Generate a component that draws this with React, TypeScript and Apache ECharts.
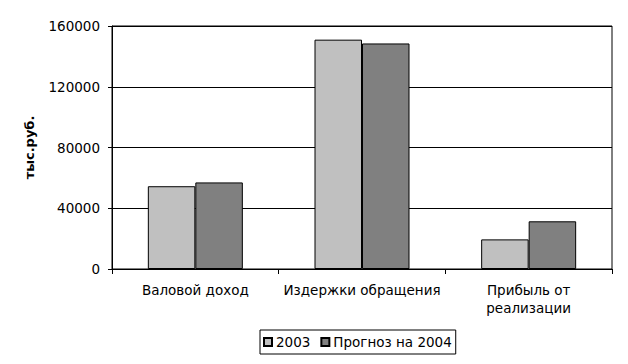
import React, { useEffect, useRef } from "react";
import * as echarts from "echarts";

const categories = ["Валовой доход", "Издержки обращения", "Прибыль от\nреализации"];
const seriesNames = ["2003", "Прогноз на 2004"];
const values2003 = [54500, 151000, 19500];
const values2004 = [57000, 148500, 31400];
const yTicks = { min: 0, max: 160000, interval: 40000 };
const yAxisTitle = "тыс.руб.";

const FONT = "DejaVu Sans";
const FS = 13.5;

export default function App() {
  const ref = useRef<HTMLDivElement>(null);
  useEffect(() => {
    if (!ref.current) return;
    const chart = echarts.init(ref.current, null, { renderer: "svg" });
    chart.setOption({
      animation: false,
      backgroundColor: "#ffffff",
      textStyle: { fontFamily: FONT, color: "#000" },
      grid: {
        left: 112,
        right: 16,
        top: 26,
        bottom: 95,
        show: true,
        borderColor: "#000",
        borderWidth: 1,
        containLabel: false,
      },
      legend: {
        data: seriesNames,
        left: 260,
        top: 330,
        orient: "horizontal",
        itemWidth: 8,
        itemHeight: 8,
        itemGap: 10,
        padding: [5, 4, 5, 3],
        borderColor: "#000",
        borderWidth: 1,
        icon: "rect",
        textStyle: { fontFamily: FONT, fontSize: FS, color: "#000", padding: [0, 0, 0, -1] },
      },
      xAxis: {
        type: "category",
        data: categories,
        axisLine: { show: true, lineStyle: { color: "#000", width: 1 } },
        axisTick: { show: true, length: 5, lineStyle: { color: "#000" }, alignWithLabel: false },
        axisLabel: {
          fontFamily: FONT,
          fontSize: FS,
          color: "#000",
          margin: 12,
          lineHeight: 18,
          interval: 0,
        },
        splitLine: { show: false },
      },
      yAxis: {
        type: "value",
        min: yTicks.min,
        max: yTicks.max,
        interval: yTicks.interval,
        name: yAxisTitle,
        nameLocation: "middle",
        nameRotate: 90,
        nameGap: 76,
        nameTextStyle: { fontFamily: FONT, fontSize: 13, fontWeight: "bold", color: "#000" },
        axisLine: { show: true, lineStyle: { color: "#000", width: 1 } },
        axisTick: { show: true, length: 4, lineStyle: { color: "#000" } },
        axisLabel: {
          fontFamily: FONT,
          fontSize: FS,
          color: "#000",
          margin: 12,
          formatter: (v: number) => String(v),
        },
        splitLine: { show: true, lineStyle: { color: "#000", width: 1 } },
      },
      series: [
        {
          name: seriesNames[0],
          type: "bar",
          data: values2003,
          barGap: "0%",
          barCategoryGap: "43%",
          itemStyle: { color: "#c0c0c0", borderColor: "#000", borderWidth: 1 },
        },
        {
          name: seriesNames[1],
          type: "bar",
          data: values2004,
          barGap: "0%",
          barCategoryGap: "43%",
          itemStyle: { color: "#808080", borderColor: "#000", borderWidth: 1 },
        },
      ],
    });
    return () => chart.dispose();
  }, []);
  return (
    <div
      ref={ref}
      style={{ position: "fixed", left: 0, top: 0, width: 628, height: 364, background: "#fff" }}
    />
  );
}
